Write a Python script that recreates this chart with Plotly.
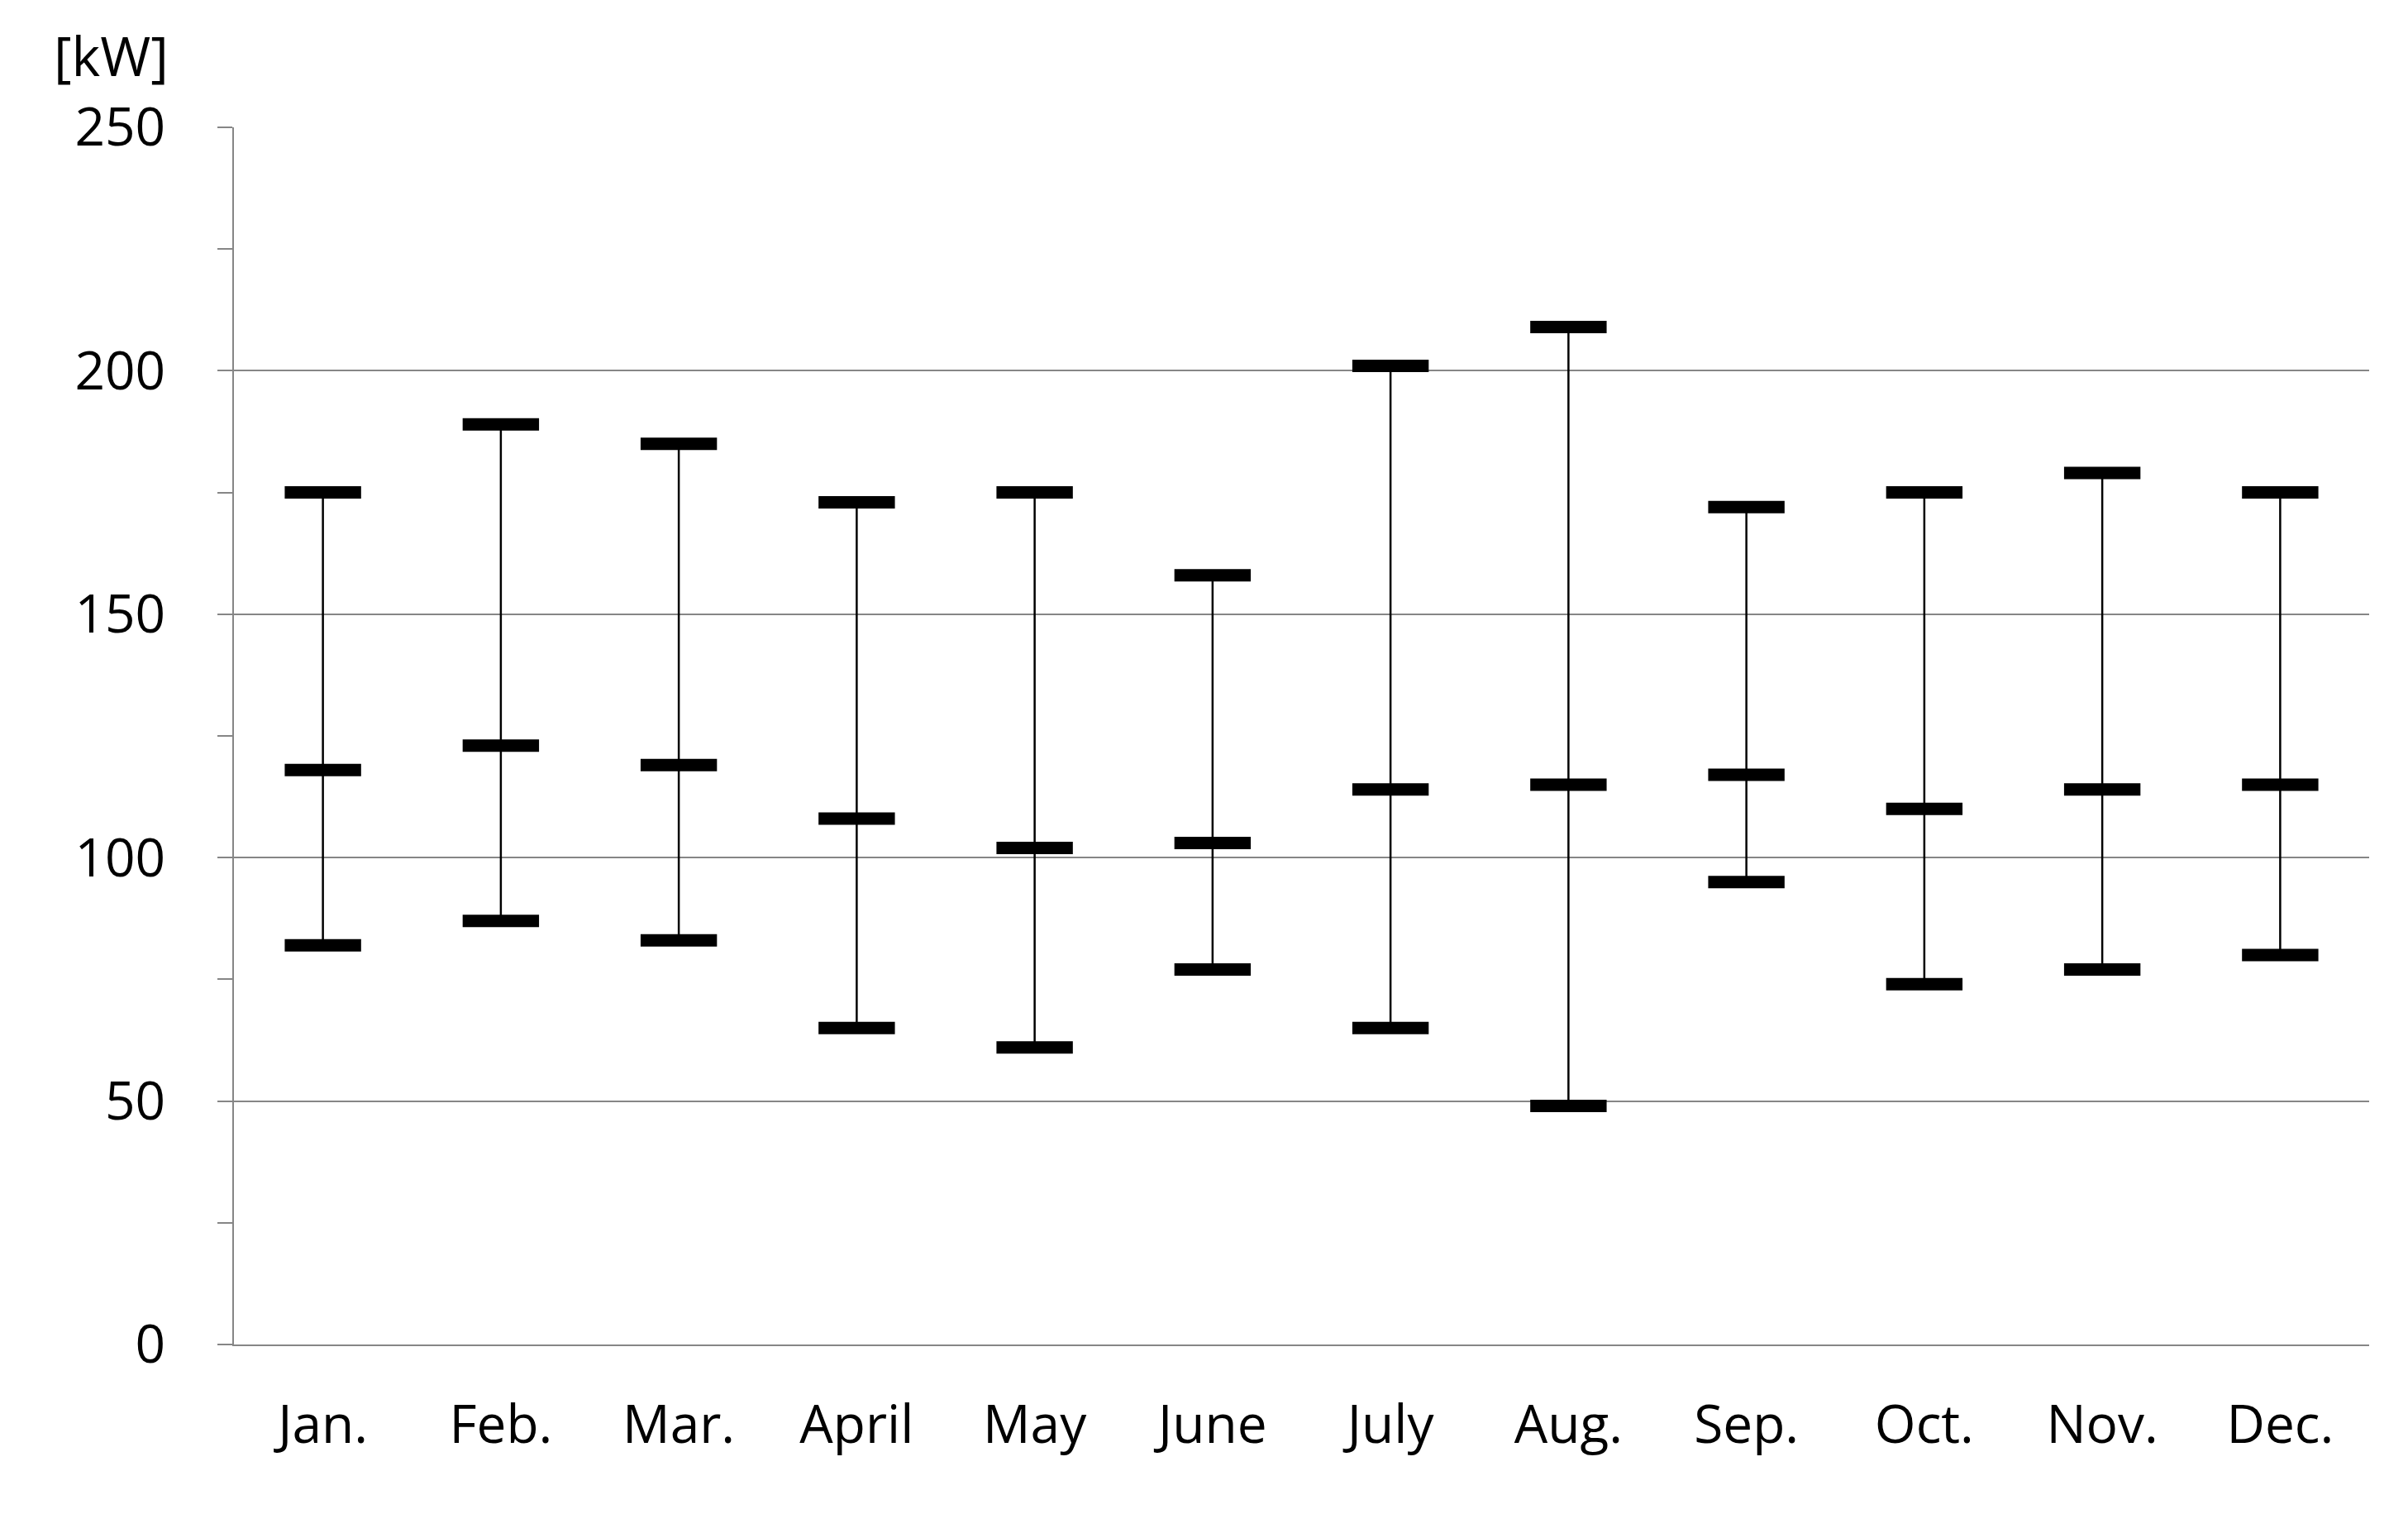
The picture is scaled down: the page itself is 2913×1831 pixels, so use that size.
import plotly.graph_objects as go

months = ["Jan.", "Feb.", "Mar.", "April", "May", "June", "July", "Aug.", "Sep.", "Oct.", "Nov.", "Dec."]
max_vals = [175, 189, 185, 173, 175, 158, 201, 209, 172, 175, 179, 175]
mid_vals = [118, 123, 119, 108, 102, 103, 114, 115, 117, 110, 114, 115]
min_vals = [82, 87, 83, 65, 61, 77, 65, 49, 95, 74, 77, 80]

lx, ly = [], []
for m, lo, hi in zip(months, min_vals, max_vals):
    lx += [m, m, None]
    ly += [lo, hi, None]

fig = go.Figure()
fig.add_trace(go.Scatter(x=lx, y=ly, mode="lines", line=dict(color="black", width=2.5),
                         hoverinfo="skip", showlegend=False))
for vals in (max_vals, mid_vals, min_vals):
    fig.add_trace(go.Scatter(x=months, y=vals, mode="markers", showlegend=False,
                             marker=dict(symbol="line-ew", size=66,
                                         line=dict(color="black", width=15))))

fig.update_layout(
    width=2913, height=1831, plot_bgcolor="white", paper_bgcolor="white",
    margin=dict(l=275, r=55, t=146, b=213),
    font=dict(family="Open Sans, Liberation Sans, sans-serif", size=64, color="black"),
    annotations=[dict(text="[kW]", xref="paper", yref="paper", x=-0.085, y=1.06,
                      xanchor="left", yanchor="middle", showarrow=False,
                      font=dict(size=66))],
)
fig.update_xaxes(type="category", categoryarray=months, range=[-0.5, 11.5],
                 showline=True, linecolor="#868686",
                 linewidth=2, showgrid=False, ticks="", ticklabelstandoff=40)
fig.update_yaxes(range=[0, 250], dtick=50, showline=True, linecolor="#868686", linewidth=2,
                 gridcolor="#868686", gridwidth=2, ticks="outside", ticklen=18,
                 tickcolor="#868686", tickwidth=2, zeroline=False, ticklabelstandoff=50,
                 minor=dict(dtick=25, ticks="outside", ticklen=18, tickcolor="#868686",
                            showgrid=False))
fig.write_html("out.html")
